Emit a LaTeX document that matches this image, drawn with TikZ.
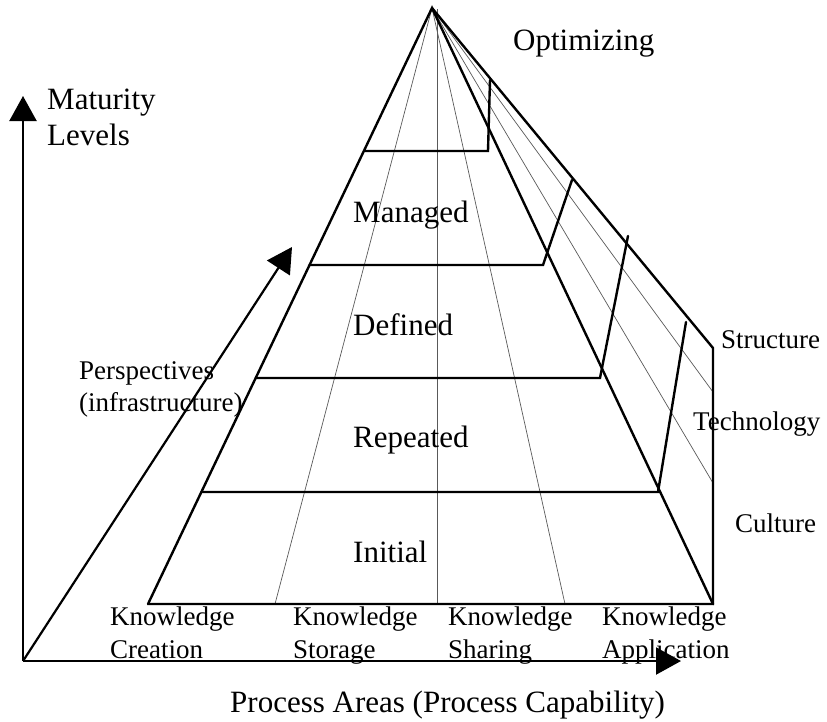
\documentclass[tikz,border=0pt]{standalone}
\usepackage{fontspec}
\setmainfont{Liberation Serif}
\usetikzlibrary{arrows.meta}
\begin{document}
\begin{tikzpicture}[x=1pt,y=-1pt,
  pyr/.style={line width=2.4pt, line join=miter, line cap=round},
  fine/.style={line width=0.7pt, black!65},
  axisarrow/.style={line width=2.2pt, -{Triangle[length=25pt,width=27pt]}},
  big/.style={font=\fontsize{31}{37}\selectfont, inner sep=0pt, anchor=base west},
  small/.style={font=\fontsize{27}{33}\selectfont, inner sep=0pt, anchor=base west},
]
\useasboundingbox (0,0) rectangle (827,721);
% key points
\coordinate (A) at (432,8);
\coordinate (BL) at (148,604);
\coordinate (BR) at (713,604);
\coordinate (BK) at (713,348);
\coordinate (O) at (23,661);
\coordinate (Ytip) at (23,96);
\coordinate (Xtip) at (681,661);
\coordinate (Ztip) at (292,247);
% base divisions
\coordinate (D1) at (275,604);
\coordinate (D2t) at (437,9);
\coordinate (D2) at (437,604);
\coordinate (D3) at (565,604);
\coordinate (S1) at (713,392);
\coordinate (S2) at (713,483);
% level lines
\coordinate (L1) at (364,151); \coordinate (P1) at (488,151); \coordinate (Q1) at (490,80);
\coordinate (L2) at (309.5,265); \coordinate (P2) at (543,265); \coordinate (Q2) at (572,180);
\coordinate (L3) at (255.7,378); \coordinate (P3) at (600,378); \coordinate (Q3) at (628,236);
\coordinate (L4) at (201.4,492); \coordinate (P4) at (658,492); \coordinate (Q4) at (686,322);

% thin division lines
\draw[fine] (A) -- (D1);
\draw[fine] (D2t) -- (D2);
\draw[fine] (A) -- (D3);
\draw[fine] (A) -- (S1);
\draw[fine] (A) -- (S2);

% pyramid outline
\draw[pyr] (BL) -- (A) -- (BR);
\draw[pyr] (BL) -- (BR) -- (BK) -- (A);

% levels
\draw[pyr] (L1) -- (P1) -- (Q1);
\draw[pyr] (L2) -- (P2) -- (Q2);
\draw[pyr] (L3) -- (P3) -- (Q3);
\draw[pyr] (L4) -- (P4) -- (Q4);

% axes
\draw[axisarrow] (O) -- (Ytip);
\draw[axisarrow] (O) -- (Xtip);
\draw[axisarrow] (O) -- (Ztip);

% labels
\node[big] (opt) at (513,50) {Optimizing};
\node[big] (man) at (353,222) {Managed};
\node[big] (def) at (353,335) {Defined};
\node[big] (rep) at (353,447) {Repeated};
\node[big] (ini) at (353,562) {Initial};
\node[big] (mat1) at (47,109) {Maturity};
\node[big] (mat2) at (47,145) {Levels};
\node[big] (proc) at (230,712) {Process Areas (Process Capability)};

\node[small] (str) at (721,348) {Structure};
\node[small] (tec) at (693,430) {Technology};
\node[small] (cul) at (735,532) {Culture};
\node[small] (per1) at (79,379) {Perspectives};
\node[small] (per2) at (79,411) {(infrastructure)};

\node[small] (k1a) at (110,625) {Knowledge};
\node[small] (k1b) at (110,658) {Creation};
\node[small] (k2a) at (293,625) {Knowledge};
\node[small] (k2b) at (293,658) {Storage};
\node[small] (k3a) at (448,625) {Knowledge};
\node[small] (k3b) at (448,658) {Sharing};
\node[small] (k4a) at (602,625) {Knowledge};
\node[small] (k4b) at (602,658) {Application};
\end{tikzpicture}
\end{document}
